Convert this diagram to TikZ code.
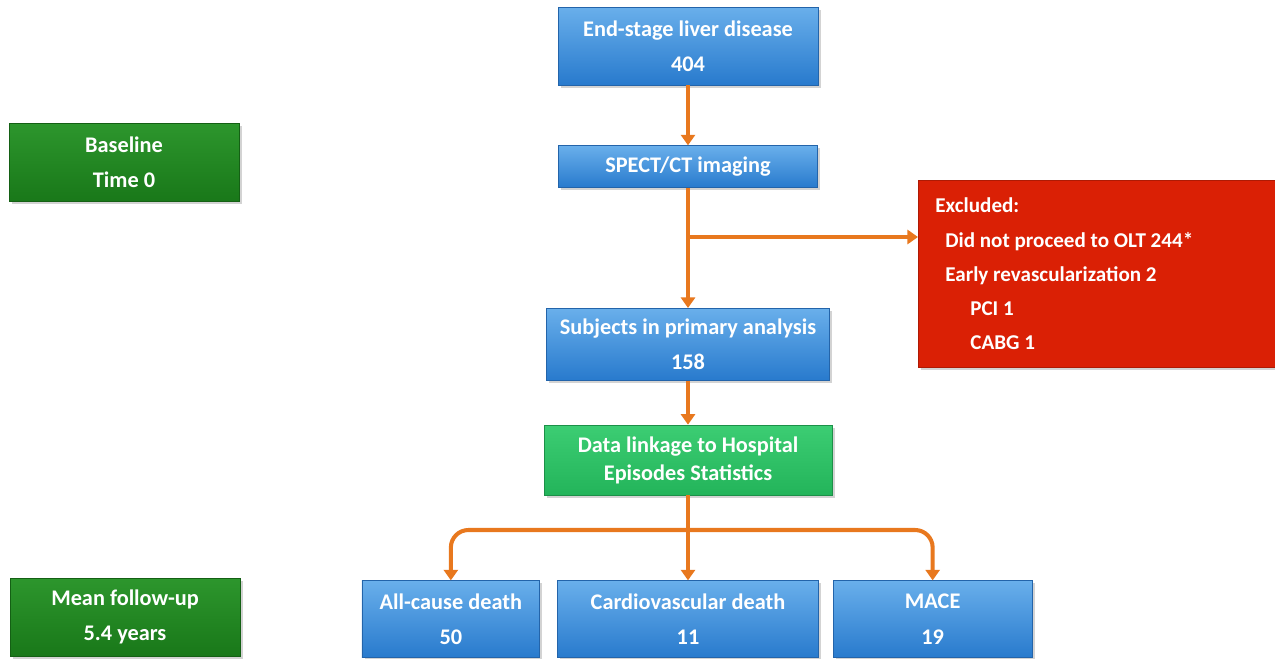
\documentclass[tikz,border=0pt]{standalone}
\usepackage{fontspec}
\setmainfont{Carlito}
\usetikzlibrary{positioning,arrows.meta,shadows}

\definecolor{blueT}{RGB}{105,175,235}
\definecolor{blueB}{RGB}{40,122,205}
\definecolor{blueD}{RGB}{35,100,170}
\definecolor{darkgreenT}{RGB}{45,150,45}
\definecolor{darkgreenB}{RGB}{25,120,25}
\definecolor{lightgreenT}{RGB}{60,205,115}
\definecolor{lightgreenB}{RGB}{35,180,90}
\definecolor{exclred}{RGB}{218,32,5}
\definecolor{flowarrow}{RGB}{232,120,30}

\tikzset{
	box/.style={draw, line width=0.4pt, text=white, align=center, inner sep=2pt,
		font=\fontsize{12.7}{20.2}\selectfont\bfseries,
		drop shadow={opacity=0.35, shadow xshift=1.5pt, shadow yshift=-1.5pt}},
	bluebox/.style={box, draw=blueD, top color=blueT, bottom color=blueB},
	timebox/.style={box, draw=darkgreenB!80!black, top color=darkgreenT, bottom color=darkgreenB,
		minimum width=4.6cm, minimum height=1.56cm},
	linkbox/.style={box, draw=lightgreenB!80!black, top color=lightgreenT, bottom color=lightgreenB},
	exclbox/.style={box, draw=exclred!80!black, fill=exclred, align=flush left,
		font=\fontsize{12}{19.4}\selectfont\bfseries},
	arr/.style={draw=flowarrow, line width=2.3pt, -{Triangle[width=8pt,length=6pt]}},
}

\begin{document}
\begin{tikzpicture}[x=0.02cm, y=-0.02cm]
		\useasboundingbox (0,0) rectangle (1275,659);

		% main column
		\node[bluebox, minimum width=5.2cm, minimum height=1.56cm] (esld) at (688,46) {End-stage liver disease\\404};
		\node[bluebox, minimum width=5.18cm, minimum height=0.84cm, below=1.2cm of esld] (spect) {SPECT/CT imaging};
		\node[bluebox, minimum width=5.66cm, minimum height=1.44cm, below=2.4cm of spect] (subj) {Subjects in primary analysis\\158};
		\node[linkbox, minimum width=5.76cm, minimum height=1.4cm, below=0.88cm of subj, font=\fontsize{12.7}{16}\selectfont\bfseries] (link) {Data linkage to Hospital\\Episodes Statistics};

		% outcomes
		\node[bluebox, minimum width=5.22cm, minimum height=1.54cm, below=1.7cm of link] (cvd) {Cardiovascular death\\11};
		\node[bluebox, minimum width=3.56cm, minimum height=1.54cm, left=0.34cm of cvd] (allc) {All-cause death\\50};
		\node[bluebox, minimum width=3.98cm, minimum height=1.54cm, right=0.28cm of cvd] (mace) {MACE\\19};

		% excluded
		\node[exclbox, text width=6.46cm, minimum height=3.74cm, anchor=north west, inner xsep=0.34cm] (excl) at (918,180)
			{Excluded:\\
			\hspace*{0.2cm}Did not proceed to OLT 244*\\
			\hspace*{0.2cm}Early revascularization 2\\
			\hspace*{0.7cm}PCI 1\\
			\hspace*{0.7cm}CABG 1};

		% time line
		\node[timebox] (base) at (124,162) {Baseline\\Time 0};
		\node[timebox] (fup) at (125,617) {Mean follow-up\\5.4 years};

		% arrows
		\coordinate (br) at (spect.south |- 0,237);
		\coordinate (sp) at (link.south |- 0,530);
		\draw[arr] (esld) -- (spect);
		\draw[arr] (spect.south) -- (spect.south |- subj.north);
		\draw[arr] (br) -- (br -| excl.west);
		\draw[arr] (subj) -- (link);
		\draw[arr] (link.south) -- (link.south |- cvd.north);
		\draw[arr, rounded corners=10pt] (sp) -| (allc.north);
		\draw[arr, rounded corners=10pt] (sp) -| (mace.north);
\end{tikzpicture}
\end{document}
